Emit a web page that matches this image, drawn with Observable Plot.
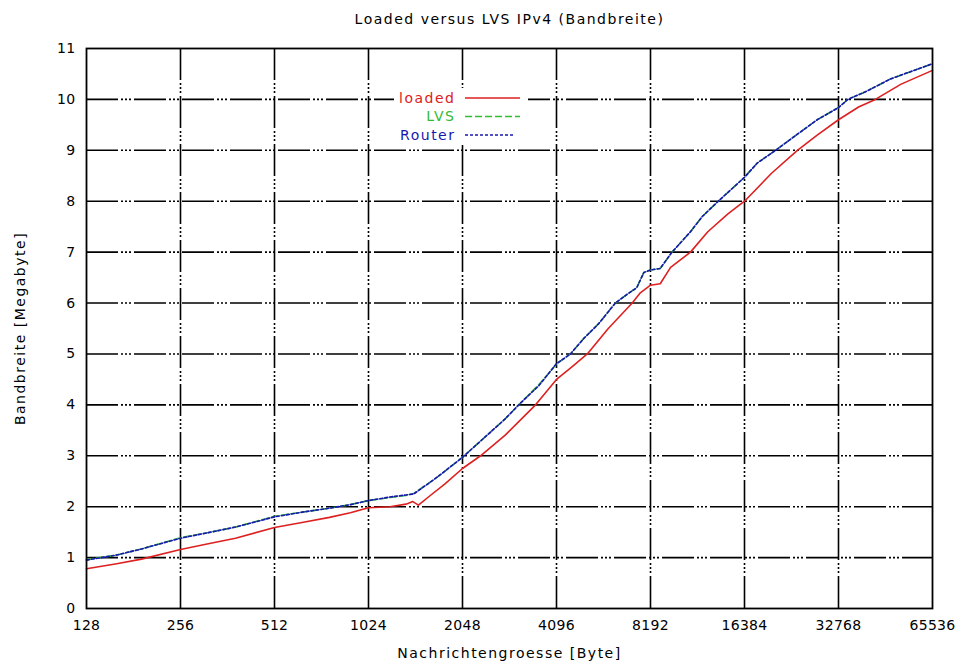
<!DOCTYPE html>
<html><head><meta charset="utf-8">
<script src="https://cdn.jsdelivr.net/npm/d3@7"></script>
<script src="https://cdn.jsdelivr.net/npm/@observablehq/plot@0.6"></script>
<style>
body{margin:0;background:#fff;}
#chart svg{display:block;}
</style>
</head><body><div id="chart"></div>
<script>
// ---- data ----
const xTicks = [128, 256, 512, 1024, 2048, 4096, 8192, 16384, 32768, 65536];
const yTicks = [0, 1, 2, 3, 4, 5, 6, 7, 8, 9, 10, 11];

const loadedSize = [128,160,192,256,320,384,512,640,768,896,1024,1200,1350,1420,1480,1600,1800,2048,2340,2800,3510,4096,4600,5140,6000,7160,7600,8192,8800,9500,11000,12500,14500,16384,20000,24200,28000,32768,38000,43000,52000,65536];
const loadedBw   = [0.78,0.88,0.97,1.16,1.28,1.38,1.59,1.70,1.79,1.88,1.98,2.00,2.05,2.10,2.03,2.20,2.45,2.75,3.00,3.40,4.00,4.50,4.75,5.00,5.50,6.00,6.20,6.35,6.38,6.70,7.00,7.40,7.75,8.00,8.55,9.00,9.30,9.60,9.85,10.00,10.30,10.57];

const lvsSize = [128,160,192,256,320,384,512,640,768,896,1024,1200,1350,1430,1700,2048,2400,2800,3100,3600,4096,4540,5000,5600,6320,7000,7400,7800,8192,8800,9600,11000,12000,13500,16384,18000,20600,24000,28000,32768,35100,40000,48000,56000,65536];
const lvsBw   = [0.96,1.05,1.17,1.39,1.50,1.60,1.81,1.90,1.97,2.04,2.12,2.18,2.22,2.26,2.58,2.97,3.35,3.72,4.00,4.40,4.80,5.00,5.30,5.60,6.00,6.20,6.30,6.60,6.65,6.68,7.00,7.40,7.70,8.00,8.47,8.75,9.00,9.30,9.60,9.84,10.00,10.15,10.40,10.55,10.70];

const routerSize = [128,160,192,256,320,384,512,640,768,896,1024,1200,1350,1430,1700,2048,2400,2800,3100,3600,4096,4540,5000,5600,6320,7000,7400,7800,8192,8800,9600,11000,12000,13500,16384,18000,20600,24000,28000,32768,35100,40000,48000,56000,65536];
const routerBw   = [0.95,1.05,1.17,1.38,1.50,1.60,1.80,1.90,1.97,2.04,2.12,2.19,2.23,2.25,2.58,2.97,3.35,3.72,4.00,4.38,4.81,5.00,5.30,5.60,6.00,6.20,6.30,6.60,6.65,6.68,7.00,7.40,7.70,8.00,8.47,8.75,9.00,9.30,9.60,9.84,10.00,10.15,10.40,10.55,10.70];

const seriesNames  = ["loaded", "LVS", "Router"];
const seriesColors = ["#dd2020", "#33bb33", "#1818b0"];
const seriesDash   = ["none", "7,3", "3,2"];

const titleText = "Loaded versus LVS IPv4 (Bandbreite)";
const xLabel = "Nachrichtengroesse [Byte]";
const yLabel = "Bandbreite [Megabyte]";

// ---- build table ----
const rows = [];
[[loadedSize, loadedBw], [lvsSize, lvsBw], [routerSize, routerBw]].forEach(([xs, ys], i) => {
  xs.forEach((x, j) => rows.push({series: seriesNames[i], size: x, bw: ys[j]}));
});

const font = "'DejaVu Sans', 'Liberation Sans', Arial, sans-serif";
const gridDash = "32,3,2,2,2,2,2,3";
const legendStep = 18.5;

const chart = Plot.plot({
  width: 964,
  height: 669,
  marginLeft: 86,
  marginRight: 32,
  marginTop: 48,
  marginBottom: 61,
  style: {fontFamily: font, fontSize: "14px", color: "#000", background: "#fff"},
  x: {type: "log", base: 2, domain: [128, 65536]},
  y: {domain: [0, 11]},
  marks: [
    Plot.ruleX(xTicks.slice(1, -1), {stroke: "#000", strokeWidth: 1.6, strokeDasharray: gridDash}),
    Plot.ruleY(yTicks.slice(1, -1), {stroke: "#000", strokeWidth: 1.6, strokeDasharray: gridDash}),
    Plot.axisX({ticks: xTicks, tickSize: 0, tickPadding: 12, tickFormat: d => String(d), label: null, fontSize: 14}),
    Plot.axisY({ticks: yTicks, tickSize: 0, tickPadding: 11, tickFormat: d => String(d), label: null, fontSize: 14}),
    ...seriesNames.map((name, i) => Plot.line(rows.filter(r => r.series === name), {
      x: "size", y: "bw", stroke: seriesColors[i], strokeWidth: 1.6, strokeDasharray: seriesDash[i]
    })),
    Plot.frame({stroke: "#000", strokeWidth: 1.8}),
    Plot.text([titleText], {frameAnchor: "top", lineAnchor: "middle", dy: -29, text: d => d, fontSize: 14, fill: "#000"}),
    Plot.text([xLabel], {frameAnchor: "bottom", lineAnchor: "middle", dy: 45, text: d => d, fontSize: 14, fill: "#000"}),
    Plot.text([yLabel], {frameAnchor: "left", textAnchor: "middle", lineAnchor: "middle", dx: -66, rotate: -90, text: d => d, fontSize: 14, fill: "#000"}),
    // legend labels
    ...seriesNames.map((name, i) => Plot.text([name], {
      frameAnchor: "top-left", textAnchor: "end", lineAnchor: "middle",
      dx: 369, dy: 50 + i * legendStep, text: d => d, fontSize: 14, fill: seriesColors[i]
    }))
  ]
});
document.getElementById("chart").appendChild(chart);

const svg = d3.select(chart);
// widen the text a little, like the reference's raster font
const wide = new Set([titleText, xLabel, yLabel, ...seriesNames]);
svg.selectAll("text").filter(function() { return wide.has(this.textContent); })
  .style("letter-spacing", "1.5px");
svg.selectAll("g[aria-label='x-axis tick label'] text, g[aria-label='y-axis tick label'] text")
  .style("letter-spacing", "0.3px");

// opaque key box behind the legend (as gnuplot draws it)
const firstLegend = svg.selectAll("text").filter(function() { return this.textContent === seriesNames[0]; }).node();
if (firstLegend) {
  const g = firstLegend.parentNode;
  g.parentNode.insertBefore(
    Object.assign(document.createElementNS("http://www.w3.org/2000/svg", "rect"), {}), g);
  const rect = g.previousSibling;
  rect.setAttribute("x", 394); rect.setAttribute("y", 88);
  rect.setAttribute("width", 134); rect.setAttribute("height", 57);
  rect.setAttribute("fill", "#fff");
}

// legend sample lines
seriesNames.forEach((name, i) => {
  const y = 48 + 50 + i * legendStep;
  svg.append("line")
    .attr("x1", 465).attr("x2", i === 2 ? 514 : 520)
    .attr("y1", y).attr("y2", y)
    .attr("stroke", seriesColors[i]).attr("stroke-width", 1.6)
    .attr("stroke-dasharray", seriesDash[i]);
});
</script>
</body></html>
